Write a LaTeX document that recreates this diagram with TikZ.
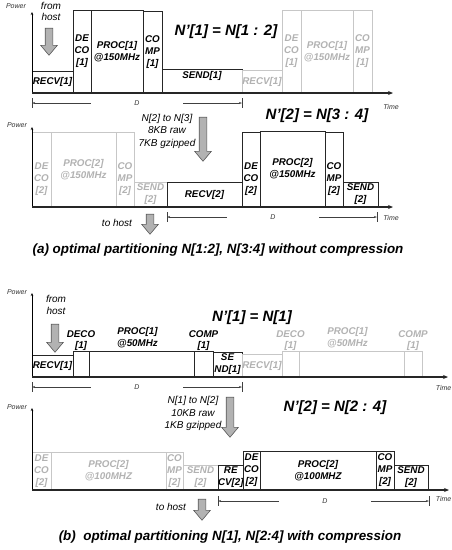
\documentclass[tikz,border=0pt]{standalone}
\usepackage{fontspec}
\setmainfont{Liberation Sans}
\usepackage{tikz}
\usetikzlibrary{positioning,arrows.meta,shapes.arrows}

\begin{document}
\begin{tikzpicture}[
    x=1pt, y=-1pt,
    box/.style={
        draw=black!85, line width=0.8pt, anchor=south west,
        inner sep=0pt, outer sep=0pt, align=center,
        font=\bfseries\itshape\fontsize{9.8}{12}\selectfont
    },
    faded/.style={box, draw=black!22, text=black!30},
    lbl/.style={align=center, inner sep=0pt, font=\bfseries\itshape\fontsize{9.8}{12}\selectfont},
    lblf/.style={lbl, text=black!30},
    toplbl/.style={lbl, font=\bfseries\itshape\fontsize{9.8}{11.5}\selectfont},
    toplblf/.style={toplbl, text=black!30},
    title/.style={inner sep=0pt, font=\bfseries\itshape\fontsize{15}{18}\selectfont},
    note/.style={align=center, inner sep=0pt, font=\itshape\fontsize{10}{12.5}\selectfont},
    tiny/.style={inner sep=0pt, text=black!80, font=\itshape\fontsize{7}{8}\selectfont},
    capt/.style={inner sep=0pt, font=\bfseries\itshape\fontsize{13.4}{16}\selectfont},
    taxis/.style={-{Stealth[length=5pt,width=4pt]}, line width=1.5pt, draw=black!85},
    paxis/.style={-{Stealth[length=3pt,width=2.5pt]}, line width=0.6pt},
    dim/.style={-{Stealth[length=3pt,width=2pt]}, line width=0.5pt, draw=black!75, shorten <=42.5pt},
    tick/.style={line width=0.6pt, draw=black!75},
    block/.style={
        single arrow, draw=black!65, fill=black!30, line width=0.6pt,
        rotate=-90, inner xsep=0pt, inner ysep=3.5pt,
        single arrow head extend=4.5pt, single arrow tip angle=80
    }
]
    \path[use as bounding box, fill=white] (0,0) rectangle (452,550);

    % ---------- (a) top: N'[1] = N[1:2]
    \node[box, minimum width=41pt, minimum height=22pt] (recv1a) at (32,93) {RECV[1]};
    \node[box, minimum width=18pt, minimum height=83pt] (deco1a) at (73,93) {DE\\CO\\{[1]}};
    \node[box, minimum width=52pt, minimum height=83pt] (proc1a) at (91,93) {PROC[1]\\@150MHz};
    \node[box, minimum width=19pt, minimum height=82pt] (comp1a) at (143,93) {CO\\MP\\{[1]}};
    \node[box, minimum width=80pt, minimum height=24pt] (send1a) at (162,93) {};
    \node[lbl, below=2pt of send1a.north] (send1at) {SEND[1]};
    \node[faded, minimum width=40pt, minimum height=23pt] (recv1af) at (242,93) {RECV[1]};
    \node[faded, minimum width=19pt, minimum height=83pt] (deco1af) at (282,93) {DE\\CO\\{[1]}};
    \node[faded, minimum width=52pt, minimum height=83pt] (proc1af) at (301,93) {PROC[1]\\@150MHz};
    \node[faded, minimum width=19pt, minimum height=83pt] (comp1af) at (353,93) {CO\\MP\\{[1]}};

    \coordinate (oA) at (32,93);
    \coordinate (pA) at (32,12);
    \coordinate (tA) at (393,93);
    \draw[paxis] (oA) -- (pA);
    \draw[taxis] (oA) -- (tA);
    \node[tiny] (powA) at (16,6) {Power};
    \node[tiny] (timeA) at (391,107) {Time};

    \node[note, font=\itshape\fontsize{10}{11.5}\selectfont] (fromAt) at (51,11.5) {from\\host};
    \node[block, minimum height=27pt] (fromA) at (49,39.5) {};
    \node[title] (titleA) at (226,32) {N'[1] = N[1 : 2]};

    \coordinate (dAl) at (32,103);
    \coordinate (dAr) at (242,103);
    \node[tiny, inner sep=1pt] (dA) at (137,103) {D};
    \draw[dim] (dA) -- (dAl);
    \draw[dim] (dA) -- (dAr);
    \draw[tick] ([yshift=5pt]dAl) -- ([yshift=-5pt]dAl);
    \draw[tick] ([yshift=5pt]dAr) -- ([yshift=-5pt]dAr);

    % ---------- (a) bottom: N'[2] = N[3:4]
    \node[faded, minimum width=19pt, minimum height=75pt] (deco2af) at (32,207) {};
    \node[lblf] (deco2aft) at ([yshift=-9.5pt]deco2af.center) {DE\\CO\\{[2]}};
    \node[faded, minimum width=65pt, minimum height=75pt] (proc2af) at (51,207) {PROC[2]\\@150MHz};
    \node[faded, minimum width=18pt, minimum height=75pt] (comp2af) at (116,207) {};
    \node[lblf] (comp2aft) at ([yshift=-9.5pt]comp2af.center) {CO\\MP\\{[2]}};
    \node[faded, minimum width=33pt, minimum height=25pt] (send2af) at (134,207) {SEND\\{[2]}};
    \node[box, minimum width=75pt, minimum height=25pt] (recv2a) at (167,207) {RECV[2]};
    \node[box, minimum width=18pt, minimum height=75pt] (deco2a) at (242,207) {};
    \node[lbl] (deco2at) at ([yshift=-9.5pt]deco2a.center) {DE\\CO\\{[2]}};
    \node[box, minimum width=65pt, minimum height=76pt] (proc2a) at (260,207) {PROC[2]\\@150MHz};
    \node[box, minimum width=18pt, minimum height=75pt] (comp2a) at (325,207) {};
    \node[lbl] (comp2at) at ([yshift=-9.5pt]comp2a.center) {CO\\MP\\{[2]}};
    \node[box, minimum width=35pt, minimum height=25pt] (send2a) at (343,207) {SEND\\{[2]}};

    \coordinate (oB) at (32,207);
    \coordinate (pB) at (32,127);
    \coordinate (tB) at (393,207);
    \draw[paxis] (oB) -- (pB);
    \draw[taxis] (oB) -- (tB);
    \node[tiny] (powB) at (17,125) {Power};
    \node[tiny] (timeB) at (391,218) {Time};

    \node[note] (xferAt) at (167,131) {N[2] to N[3]\\8KB raw\\7KB gzipped};
    \node[block, minimum height=44pt] (xferA) at (203,137) {};
    \node[title] (titleB) at (317,116) {N'[2] = N[3 : 4]};
    \node[note] (toAt) at (117,223) {to host};
    \node[block, minimum height=20pt] (toA) at (150,222) {};

    \coordinate (dBl) at (167,217);
    \coordinate (dBr) at (377,217);
    \node[tiny, inner sep=1pt] (dB) at (273,217) {D};
    \draw[dim] (dB) -- (dBl);
    \draw[dim] (dB) -- (dBr);
    \draw[tick] ([yshift=5pt]dBl) -- ([yshift=-5pt]dBl);
    \draw[tick] ([yshift=5pt]dBr) -- ([yshift=-5pt]dBr);

    \node[capt] (captA) at (218,250) {(a) optimal partitioning N[1:2], N[3:4] without compression};

    % ---------- (b) top: N'[1] = N[1]
    \node[box, minimum width=41pt, minimum height=22pt] (recv1b) at (32,377) {RECV[1]};
    \node[box, minimum width=16pt, minimum height=26pt] (deco1b) at (73,377) {};
    \node[toplbl, above=0pt of deco1b] (deco1bt) {DECO\\{[1]}};
    \node[box, minimum width=105pt, minimum height=26pt] (proc1b) at (89,377) {};
    \node[toplbl, above=3pt of proc1b, xshift=-4pt] (proc1bt) {PROC[1]\\@50MHz};
    \node[box, minimum width=19pt, minimum height=26pt] (comp1b) at (194,377) {};
    \node[toplbl, above=0pt of comp1b] (comp1bt) {COMP\\{[1]}};
    \node[box, minimum width=29pt, minimum height=25pt] (send1b) at (213,377) {SE\\ND[1]};
    \node[faded, minimum width=40pt, minimum height=23pt] (recv1bf) at (242,377) {RECV[1]};
    \node[faded, minimum width=17pt, minimum height=26pt] (deco1bf) at (282,377) {};
    \node[toplblf, above=0pt of deco1bf] (deco1bft) {DECO\\{[1]}};
    \node[faded, minimum width=105pt, minimum height=26pt] (proc1bf) at (299,377) {};
    \node[toplblf, above=3pt of proc1bf, xshift=-4pt] (proc1bft) {PROC[1]\\@50MHz};
    \node[faded, minimum width=18pt, minimum height=26pt] (comp1bf) at (404,377) {};
    \node[toplblf, above=0pt of comp1bf] (comp1bft) {COMP\\{[1]}};

    \coordinate (oC) at (32,377);
    \coordinate (pC) at (32,293);
    \coordinate (tC) at (448,377);
    \draw[paxis] (oC) -- (pC);
    \draw[taxis] (oC) -- (tC);
    \node[tiny] (powC) at (17,292) {Power};
    \node[tiny, anchor=east] (timeC) at (451.5,388) {Time};

    \node[note] (fromBt) at (56,305) {from\\host};
    \node[block, minimum height=28pt] (fromB) at (55,336) {};
    \node[title] (titleC) at (252,318) {N'[1] = N[1]};

    \coordinate (dCl) at (32,387);
    \coordinate (dCr) at (242,387);
    \node[tiny, inner sep=1pt] (dC) at (137,387) {D};
    \draw[dim] (dC) -- (dCl);
    \draw[dim] (dC) -- (dCr);
    \draw[tick] ([yshift=5pt]dCl) -- ([yshift=-5pt]dCl);
    \draw[tick] ([yshift=5pt]dCr) -- ([yshift=-5pt]dCr);

    % ---------- (b) bottom: N'[2] = N[2:4]
    \node[faded, minimum width=19pt, minimum height=38pt] (deco2bf) at (32,490) {DE\\CO\\{[2]}};
    \node[faded, minimum width=115pt, minimum height=38pt] (proc2bf) at (51,490) {PROC[2]\\@100MHZ};
    \node[faded, minimum width=17pt, minimum height=38pt] (comp2bf) at (166,490) {CO\\MP\\{[2]}};
    \node[faded, minimum width=35pt, minimum height=25pt] (send2bf) at (183,490) {SEND\\{[2]}};
    \node[box, minimum width=25pt, minimum height=25pt] (recv2b) at (218,490) {RE\\CV[2]};
    \node[box, minimum width=17pt, minimum height=39pt] (deco2b) at (243,490) {DE\\CO\\{[2]}};
    \node[box, minimum width=116pt, minimum height=39pt] (proc2b) at (260,490) {PROC[2]\\@100MHZ};
    \node[box, minimum width=18pt, minimum height=39pt] (comp2b) at (376,490) {CO\\MP\\{[2]}};
    \node[box, minimum width=34pt, minimum height=25pt] (send2b) at (394,490) {SEND\\{[2]}};

    \coordinate (oD) at (32,490);
    \coordinate (pD) at (32,408);
    \coordinate (tD) at (449,490);
    \draw[paxis] (oD) -- (pD);
    \draw[taxis] (oD) -- (tD);
    \node[tiny] (powD) at (17,407) {Power};
    \node[tiny, anchor=east] (timeD) at (451.5,499) {Time};

    \node[note] (xferBt) at (193,413.5) {N[1] to N[2]\\10KB raw\\1KB gzipped};
    \node[block, minimum height=40pt] (xferB) at (230,415) {};
    \node[title] (titleD) at (335,408) {N'[2] = N[2 : 4]};
    \node[note] (toBt) at (171,507) {to host};
    \node[block, minimum height=21pt] (toB) at (202,507.5) {};

    \coordinate (dDl) at (218,501);
    \coordinate (dDr) at (429,501);
    \node[tiny, inner sep=1pt] (dD) at (325,501) {D};
    \draw[dim] (dD) -- (dDl);
    \draw[dim] (dD) -- (dDr);
    \draw[tick] ([yshift=5pt]dDl) -- ([yshift=-5pt]dDl);
    \draw[tick] ([yshift=5pt]dDr) -- ([yshift=-5pt]dDr);

    \node[capt] (captB) at (230,537) {(b)\ \ optimal partitioning N[1], N[2:4] with compression};
\end{tikzpicture}
\end{document}
